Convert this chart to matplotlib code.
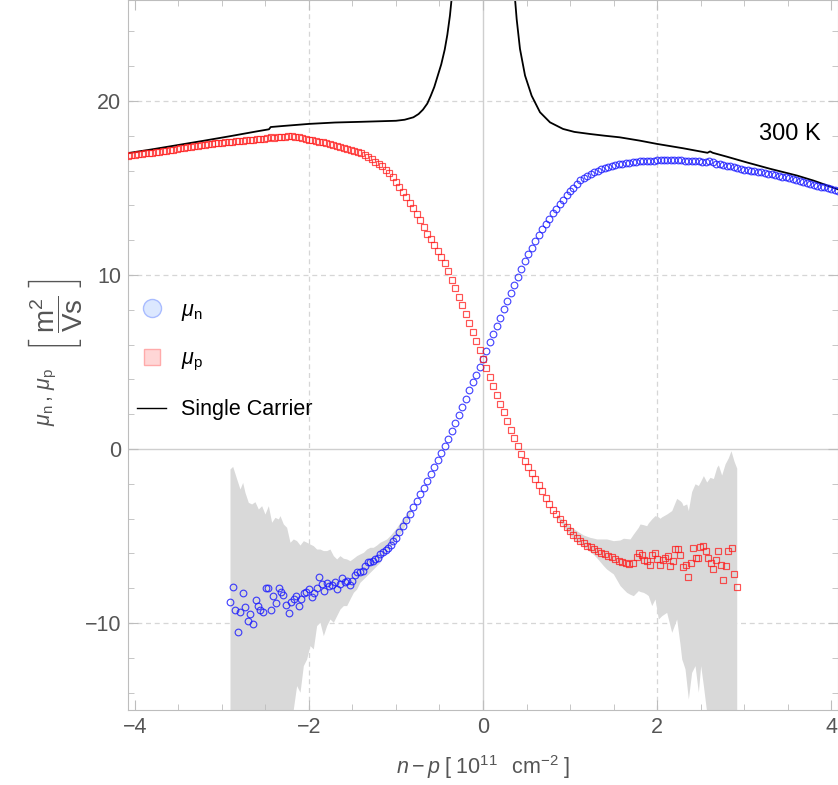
import matplotlib.pyplot as plt
from matplotlib.lines import Line2D
from matplotlib.ticker import MultipleLocator

# --- fontes (estilo Mathematica / Arial) ---
plt.rcParams['font.family'] = ['Liberation Sans', 'DejaVu Sans']
plt.rcParams['mathtext.fontset'] = 'custom'
plt.rcParams['mathtext.rm'] = 'Liberation Sans'
plt.rcParams['mathtext.it'] = 'Liberation Sans:italic'
plt.rcParams['mathtext.bf'] = 'Liberation Sans:bold'

# --- DADOS ---
# mu_n : parte ruidosa (lado esquerdo)
MU_N_NOISE_X = [-2.908, -2.877, -2.851, -2.820, -2.793, -2.762, -2.732, -2.705, -2.678, -2.648,
                -2.613, -2.586, -2.559, -2.529, -2.498, -2.467, -2.441, -2.410, -2.379, -2.349,
                -2.322, -2.295, -2.264, -2.234, -2.203, -2.172, -2.146, -2.115, -2.088, -2.061,
                -2.031, -2.000, -1.969, -1.943, -1.912, -1.881, -1.851, -1.824, -1.793, -1.766,
                -1.736, -1.705, -1.678, -1.648, -1.621, -1.590, -1.563, -1.533, -1.502, -1.475,
                -1.444, -1.414, -1.383, -1.356, -1.326, -1.295, -1.268, -1.238, -1.207, -1.180,
                -1.149, -1.119, -1.092, -1.061, -1.034, -1.004]
MU_N_NOISE_Y = [-8.77, -7.95, -9.23, -10.54, -9.35, -8.28, -9.10, -9.87, -9.50, -10.04,
                -8.68, -9.00, -9.23, -9.39, -7.99, -7.99, -9.23, -8.43, -8.85, -7.97,
                -8.20, -8.37, -8.95, -9.44, -8.81, -8.62, -8.43, -9.00, -8.62, -8.28,
                -8.20, -8.05, -8.52, -8.28, -7.97, -7.38, -7.78, -8.18, -7.70, -7.85,
                -7.82, -7.62, -8.05, -7.76, -7.43, -7.66, -7.57, -7.82, -7.59, -7.24,
                -7.09, -7.09, -6.99, -6.74, -6.48, -6.48, -6.42, -6.32, -6.28, -6.03,
                -5.90, -5.79, -5.71, -5.52, -5.27, -5.13]

# mu_n : parte suave
MU_N_X = [-0.96, -0.92, -0.88, -0.84, -0.80, -0.76, -0.72, -0.68, -0.64, -0.60,
          -0.56, -0.52, -0.48, -0.44, -0.40, -0.36, -0.32, -0.28, -0.24, -0.20,
          -0.16, -0.12, -0.08, -0.04, 0.00, 0.04, 0.08, 0.12, 0.16, 0.20,
          0.24, 0.28, 0.32, 0.36, 0.40, 0.44, 0.48, 0.52, 0.56, 0.60,
          0.64, 0.68, 0.72, 0.76, 0.80, 0.84, 0.88, 0.92, 0.96, 1.00,
          1.04, 1.08, 1.12, 1.16, 1.20, 1.24, 1.28, 1.32, 1.36, 1.40,
          1.44, 1.48, 1.52, 1.56, 1.60, 1.64, 1.68, 1.72, 1.76, 1.80,
          1.84, 1.88, 1.92, 1.96, 2.00, 2.04, 2.08, 2.12, 2.16, 2.20,
          2.24, 2.28, 2.32, 2.36, 2.40, 2.44, 2.48, 2.52, 2.56, 2.60,
          2.64, 2.68, 2.72, 2.76, 2.80, 2.84, 2.88, 2.92, 2.96, 3.00,
          3.04, 3.08, 3.12, 3.16, 3.20, 3.24, 3.28, 3.32, 3.36, 3.40,
          3.44, 3.48, 3.52, 3.56, 3.60, 3.64, 3.68, 3.72, 3.76, 3.80,
          3.84, 3.88, 3.92, 3.96, 4.00, 4.04, 4.08]
MU_N_Y = [-4.76, -4.42, -4.07, -3.72, -3.35, -2.98, -2.61, -2.23, -1.84, -1.45,
          -1.05, -0.66, -0.25, 0.16, 0.60, 1.06, 1.52, 1.98, 2.44, 2.90,
          3.36, 3.82, 4.27, 4.72, 5.17, 5.65, 6.12, 6.60, 7.07, 7.55,
          8.03, 8.51, 8.98, 9.44, 9.90, 10.34, 10.79, 11.19, 11.57, 11.95,
          12.30, 12.64, 12.95, 13.24, 13.55, 13.80, 14.06, 14.32, 14.58, 14.80,
          15.02, 15.25, 15.45, 15.58, 15.70, 15.80, 15.90, 15.99, 16.07, 16.15,
          16.21, 16.27, 16.32, 16.37, 16.40, 16.43, 16.46, 16.48, 16.50, 16.52,
          16.53, 16.54, 16.56, 16.57, 16.58, 16.59, 16.60, 16.60, 16.61, 16.60,
          16.60, 16.58, 16.57, 16.56, 16.55, 16.54, 16.52, 16.51, 16.49, 16.55,
          16.47, 16.40, 16.36, 16.32, 16.28, 16.24, 16.19, 16.14, 16.10, 16.05,
          16.02, 15.99, 15.96, 15.93, 15.90, 15.86, 15.82, 15.78, 15.74, 15.70,
          15.65, 15.60, 15.55, 15.49, 15.43, 15.38, 15.33, 15.27, 15.21, 15.15,
          15.11, 15.07, 15.03, 14.99, 14.95, 14.90, 14.85]

# mu_p : parte suave
MU_P_X = [-4.08, -4.04, -4.00, -3.96, -3.92, -3.88, -3.84, -3.80, -3.76, -3.72,
          -3.68, -3.64, -3.60, -3.56, -3.52, -3.48, -3.44, -3.40, -3.36, -3.32,
          -3.28, -3.24, -3.20, -3.16, -3.12, -3.08, -3.04, -3.00, -2.96, -2.92,
          -2.88, -2.84, -2.80, -2.76, -2.72, -2.68, -2.64, -2.60, -2.56, -2.52,
          -2.48, -2.44, -2.40, -2.36, -2.32, -2.28, -2.24, -2.20, -2.16, -2.12,
          -2.08, -2.04, -2.00, -1.96, -1.92, -1.88, -1.84, -1.80, -1.76, -1.72,
          -1.68, -1.64, -1.60, -1.56, -1.52, -1.48, -1.44, -1.40, -1.36, -1.32,
          -1.28, -1.24, -1.20, -1.16, -1.12, -1.08, -1.04, -1.00, -0.96, -0.92,
          -0.88, -0.84, -0.80, -0.76, -0.72, -0.68, -0.64, -0.60, -0.56, -0.52,
          -0.48, -0.44, -0.40, -0.36, -0.32, -0.28, -0.24, -0.20, -0.16, -0.12,
          -0.08, -0.04, 0.00, 0.04, 0.08, 0.12, 0.16, 0.20, 0.24, 0.28,
          0.32, 0.36, 0.40, 0.44, 0.48, 0.52, 0.56, 0.60, 0.64, 0.68,
          0.72, 0.76, 0.80, 0.84, 0.88, 0.92, 0.96, 1.00, 1.04, 1.08,
          1.12, 1.16, 1.20, 1.24, 1.28, 1.32, 1.36, 1.40, 1.44, 1.48,
          1.52, 1.56, 1.60, 1.64, 1.68]
MU_P_Y = [16.85, 16.88, 16.90, 16.93, 16.96, 16.98, 17.00, 17.03, 17.06, 17.09,
          17.11, 17.14, 17.17, 17.20, 17.24, 17.27, 17.30, 17.34, 17.37, 17.41,
          17.43, 17.46, 17.48, 17.51, 17.53, 17.56, 17.58, 17.60, 17.62, 17.64,
          17.66, 17.68, 17.70, 17.72, 17.74, 17.76, 17.78, 17.80, 17.82, 17.84,
          17.86, 17.90, 17.89, 17.91, 17.93, 17.95, 17.97, 17.96, 17.94, 17.91,
          17.87, 17.82, 17.77, 17.73, 17.70, 17.66, 17.63, 17.60, 17.55, 17.49,
          17.43, 17.38, 17.32, 17.25, 17.18, 17.12, 17.05, 16.98, 16.89, 16.77,
          16.64, 16.51, 16.38, 16.24, 16.04, 15.83, 15.61, 15.33, 15.05, 14.77,
          14.46, 14.15, 13.85, 13.50, 13.13, 12.75, 12.38, 12.06, 11.73, 11.40,
          11.05, 10.67, 10.20, 9.72, 9.24, 8.75, 8.25, 7.75, 7.23, 6.71,
          6.19, 5.68, 5.17, 4.66, 4.15, 3.64, 3.12, 2.60, 2.10, 1.60,
          1.11, 0.63, 0.15, -0.30, -0.68, -1.01, -1.37, -1.70, -2.08, -2.44,
          -2.80, -3.15, -3.48, -3.75, -4.00, -4.24, -4.48, -4.72, -4.92, -5.12,
          -5.28, -5.41, -5.55, -5.66, -5.77, -5.87, -5.96, -6.06, -6.14, -6.23,
          -6.32, -6.41, -6.50, -6.55, -6.60]

# mu_p : parte ruidosa (lado direito)
MU_P_NOISE_X = [1.728, 1.766, 1.797, 1.831, 1.851, 1.881, 1.920, 1.939, 1.977, 2.004,
                2.034, 2.065, 2.092, 2.123, 2.149, 2.180, 2.207, 2.245, 2.264, 2.295,
                2.330, 2.360, 2.387, 2.414, 2.444, 2.475, 2.494, 2.525, 2.563, 2.590,
                2.617, 2.648, 2.678, 2.705, 2.736, 2.762, 2.793, 2.820, 2.858, 2.885,
                2.916]
MU_P_NOISE_Y = [-6.55, -6.23, -5.98, -6.09, -6.38, -6.46, -6.67, -6.09, -5.98, -6.32,
                -6.67, -6.36, -6.28, -6.17, -6.70, -6.46, -5.75, -5.75, -6.07, -6.80,
                -6.67, -7.38, -6.57, -5.71, -6.26, -6.26, -5.65, -5.56, -5.88, -6.25,
                -6.57, -6.90, -6.38, -5.84, -6.67, -7.55, -6.72, -5.84, -5.71, -7.20,
                -7.95]

# Single carrier (dois ramos, diverge perto de n - p = 0)
SC_LEFT_X = [-4.08, -3.80, -3.50, -3.20, -2.90, -2.60, -2.46, -2.44, -2.30, -2.00,
             -1.70, -1.40, -1.20, -1.00, -0.90, -0.80, -0.74, -0.69, -0.64, -0.60,
             -0.56, -0.52, -0.48, -0.44, -0.41, -0.38, -0.36, -0.34]
SC_LEFT_Y = [17.00, 17.22, 17.47, 17.72, 17.98, 18.25, 18.37, 18.50, 18.56, 18.68,
             18.76, 18.80, 18.83, 18.86, 18.92, 19.06, 19.25, 19.50, 19.85, 20.30,
             20.80, 21.45, 22.10, 22.95, 23.80, 24.90, 25.90, 27.50]
SC_RIGHT_X = [0.34, 0.368, 0.387, 0.425, 0.483, 0.559, 0.655, 0.77, 0.92, 1.05,
              1.23, 1.40, 1.57, 1.80, 2.00, 2.30, 2.58, 2.61, 2.64, 2.80,
              3.03, 3.30, 3.61, 3.80, 4.08]
SC_RIGHT_Y = [28.00, 25.86, 24.70, 22.99, 21.46, 20.30, 19.35, 18.77, 18.39, 18.22,
              18.10, 18.00, 17.91, 17.72, 17.53, 17.28, 17.02, 17.10, 17.02, 16.80,
              16.47, 16.10, 15.71, 15.42, 14.92]

# faixa de incerteza (cinza) - lado esquerdo
BAND_L_X = [-2.908, -2.877, -2.831, -2.793, -2.762, -2.736, -2.697, -2.659, -2.621, -2.582,
            -2.544, -2.506, -2.467, -2.429, -2.391, -2.352, -2.333, -2.295, -2.257, -2.218,
            -2.180, -2.142, -2.103, -2.065, -2.027, -1.989, -1.950, -1.912, -1.874, -1.835,
            -1.797, -1.759, -1.720, -1.682, -1.644, -1.605, -1.567, -1.529, -1.490, -1.452,
            -1.414, -1.375, -1.337, -1.299, -1.261, -1.222, -1.184, -1.146, -1.107, -1.069,
            -1.03, -0.99, -0.95, -0.91, -0.87, -0.83]
BAND_L_HI = [-1.15, -1.00, -1.72, -2.30, -1.92, -2.49, -3.07, -3.16, -3.03, -3.45,
             -3.26, -3.74, -3.26, -4.21, -3.93, -4.02, -3.83, -4.31, -4.50, -5.36,
             -5.17, -5.27, -5.52, -5.27, -5.36, -5.46, -5.56, -5.75, -5.75, -5.84,
             -5.84, -5.75, -6.13, -6.32, -6.13, -6.28, -6.32, -6.42, -6.28, -6.13,
             -6.03, -5.94, -5.75, -5.65, -5.65, -5.52, -5.36, -5.27, -5.17, -4.98,
             -4.75, -4.50, -4.20, -3.95, -3.65, -3.30]
BAND_L_LO = [-18.0, -18.0, -18.0, -18.0, -18.0, -18.0, -18.0, -18.0, -18.0, -18.0,
             -18.0, -18.0, -18.0, -18.0, -18.0, -18.0, -18.0, -18.0, -18.0, -18.0,
             -14.94, -13.60, -13.98, -12.45, -12.07, -11.30, -11.49, -10.15, -9.96, -10.73,
             -10.15, -9.77, -9.96, -9.58, -9.20, -9.00, -9.00, -8.62, -8.24, -8.05,
             -7.66, -7.47, -7.28, -7.09, -6.90, -6.70, -6.51, -6.13, -5.94, -5.65,
             -5.40, -5.10, -4.85, -4.50, -4.15, -3.60]

# faixa de incerteza (cinza) - lado direito
BAND_R_X = [0.85, 0.92, 1.00, 1.077, 1.153, 1.230, 1.268, 1.307, 1.383, 1.421,
            1.498, 1.575, 1.613, 1.651, 1.690, 1.728, 1.785, 1.805, 1.843, 1.881,
            1.900, 1.939, 1.977, 2.015, 2.034, 2.054, 2.111, 2.169, 2.226, 2.264,
            2.284, 2.300, 2.322, 2.341, 2.360, 2.398, 2.437, 2.475, 2.502, 2.533,
            2.571, 2.609, 2.648, 2.686, 2.705, 2.743, 2.782, 2.820, 2.850, 2.885,
            2.916]
BAND_R_LO = [-3.95, -4.40, -4.95, -5.35, -5.60, -5.90, -6.05, -6.25, -6.70, -6.90,
             -7.18, -7.85, -8.05, -8.24, -8.35, -8.43, -8.14, -8.19, -8.24, -8.35,
             -8.43, -9.00, -8.62, -9.77, -9.68, -9.58, -9.39, -10.54, -9.77, -11.20,
             -12.07, -12.30, -12.64, -13.50, -14.37, -12.84, -12.45, -13.98, -12.45, -13.60,
             -15.13, -18.0, -18.0, -18.0, -18.0, -18.0, -18.0, -18.0, -18.0, -18.0,
             -18.0]
BAND_R_HI = [-3.75, -4.10, -4.45, -4.70, -4.94, -5.08, -5.12, -5.17, -5.17, -5.17,
             -5.27, -5.23, -5.13, -5.15, -5.17, -4.89, -4.50, -4.31, -4.35, -4.41,
             -4.25, -4.02, -3.83, -3.90, -3.98, -3.90, -3.74, -3.54, -2.84, -2.97,
             -3.07, -3.26, -3.20, -3.16, -3.54, -2.45, -2.00, -2.10, -1.85, -1.53,
             -1.90, -1.63, -1.70, -1.05, -0.92, -1.50, -0.86, -0.50, -0.10, -0.70,
             -1.10]

XLIM = (-4.08, 4.08)
YLIM = (-15, 25.8)

GRID_COR = '#d6d6d6'
EIXO_COR = '#cfcfcf'
TEXTO_COR = '#555555'

# --- FIGURA ---
fig = plt.figure(figsize=(8.38, 7.85), dpi=100)
ax = fig.add_axes([128 / 838, 75 / 785, 710 / 838, 710 / 785])
ax.set_xlim(*XLIM)
ax.set_ylim(*YLIM)

# grade tracejada + eixos em zero
for gx in [-2, 2]:
    ax.axvline(gx, color=GRID_COR, lw=0.9, ls=(0, (4, 3)), zorder=0)
for gy in [-10, 10, 20]:
    ax.axhline(gy, color=GRID_COR, lw=0.9, ls=(0, (4, 3)), zorder=0)
ax.axvline(0, color=EIXO_COR, lw=1.0, zorder=0.5)
ax.axhline(0, color=EIXO_COR, lw=1.0, zorder=0.5)

# faixa cinza
ax.fill_between(BAND_L_X, BAND_L_LO, BAND_L_HI, color='#d9d9d9', lw=0, zorder=1)
ax.fill_between(BAND_R_X, BAND_R_LO, BAND_R_HI, color='#d9d9d9', lw=0, zorder=1)

# single carrier
ax.plot(SC_LEFT_X, SC_LEFT_Y, color='black', lw=1.3, zorder=2)
ax.plot(SC_RIGHT_X, SC_RIGHT_Y, color='black', lw=1.3, zorder=2)

# mobilidades
mu_n_x = MU_N_NOISE_X + MU_N_X
mu_n_y = MU_N_NOISE_Y + MU_N_Y
mu_p_x = MU_P_X + MU_P_NOISE_X
mu_p_y = MU_P_Y + MU_P_NOISE_Y

ax.plot(mu_n_x, mu_n_y, ls='none', marker='o', ms=4.8, mfc='none',
        mec=(0.1, 0.1, 1.0, 0.8), mew=0.85, zorder=3)
ax.plot(mu_p_x, mu_p_y, ls='none', marker='s', ms=4.6, mfc='none',
        mec=(1.0, 0.1, 0.1, 0.75), mew=0.85, zorder=4)

# rótulo da temperatura
ax.text(3.53, 18.1, '300 K', fontsize=17, ha='center', va='center', color='black')

# moldura e ticks
for s in ax.spines.values():
    s.set_color('#bdbdbd')
    s.set_linewidth(0.8)

ax.xaxis.set_major_locator(MultipleLocator(2))
ax.xaxis.set_minor_locator(MultipleLocator(0.5))
ax.yaxis.set_major_locator(MultipleLocator(10))
ax.yaxis.set_minor_locator(MultipleLocator(2))
ax.tick_params(which='both', direction='in', top=True, right=True, color='#bdbdbd',
               labelsize=15.5, labelcolor=TEXTO_COR)
ax.tick_params(which='major', length=7, width=0.8, pad=5)
ax.tick_params(which='minor', length=4, width=0.6)

# legenda
h_n = Line2D([], [], ls='none', marker='o', ms=13, mfc='#dce8ff', mec='#a9bcff', mew=1)
h_p = Line2D([], [], ls='none', marker='s', ms=12, mfc='#ffd6d6', mec='#ffaaaa', mew=1)
h_sc = Line2D([], [], color='black', lw=1)
ax.legend([h_n, h_p, h_sc], [r'$\mu_{\rm n}$', r'$\mu_{\rm p}$', 'Single Carrier'],
          loc='upper left', bbox_to_anchor=(137 / 838, 1 - 300 / 785),
          bbox_transform=fig.transFigure, frameon=False, fontsize=15.5,
          handlelength=1.35, handletextpad=0.7, labelspacing=1.2,
          borderpad=0, borderaxespad=0)

# títulos dos eixos (eixo y em duas partes: símbolos + unidade maior)
fig.text(48 / 838, 1 - 397 / 785, r'$\mu_{\rm n}\,,\,\mu_{\rm p}$',
         rotation=90, ha='center', va='center', fontsize=15.5, color=TEXTO_COR)
fig.text(55 / 838, 1 - 316 / 785, r'$\left[\;\dfrac{\rm m^2}{\rm Vs}\;\right]$',
         rotation=90, ha='center', va='center', fontsize=20, color=TEXTO_COR)
fig.text(483 / 838, 1 - 767 / 785, r'$n-p\;[\;10^{11}\;\;\;{\rm cm}^{-2}\;]$',
         ha='center', va='center', fontsize=15.5, color=TEXTO_COR)

fig.savefig('out.png', dpi=100)
